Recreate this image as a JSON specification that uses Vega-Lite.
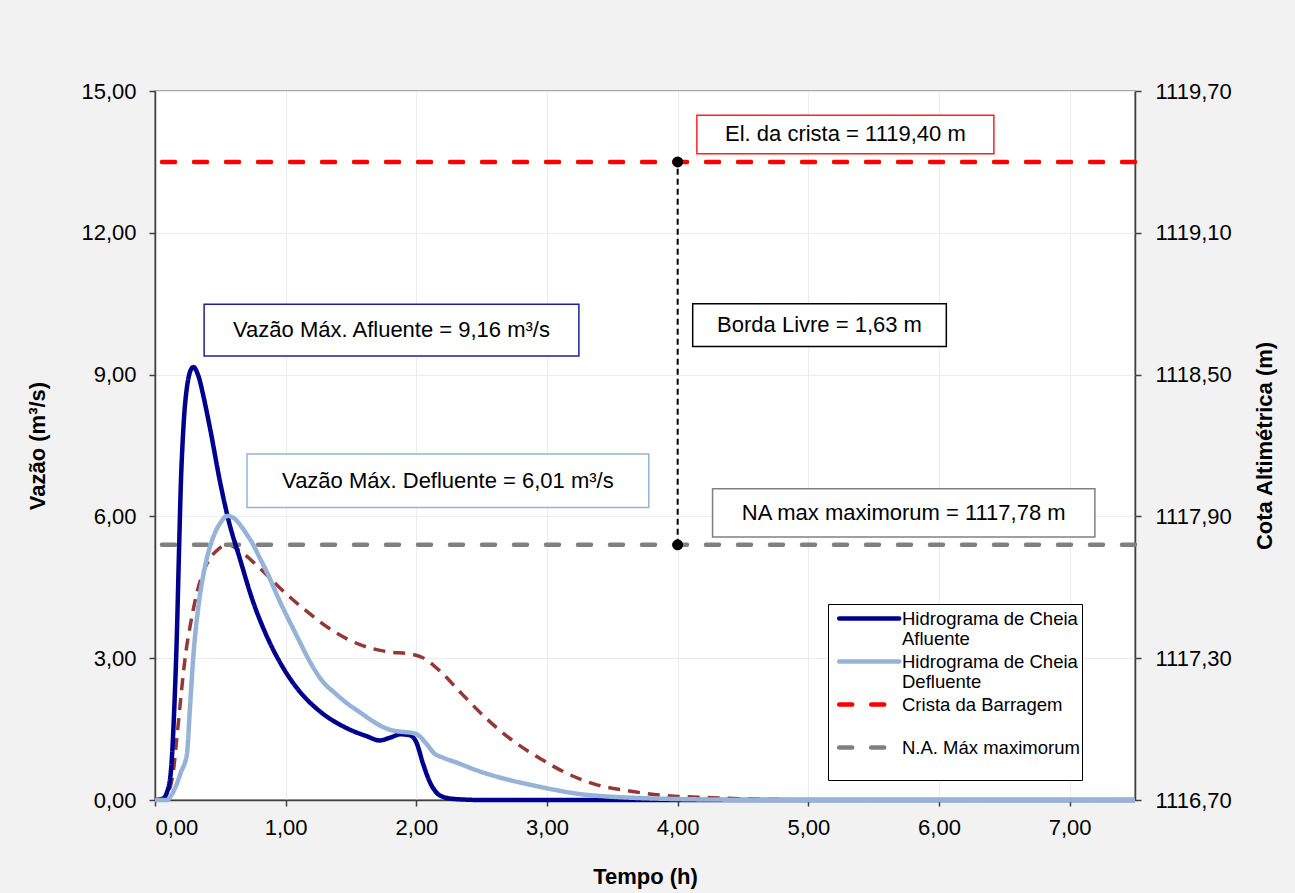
{
  "$schema": "https://vega.github.io/schema/vega-lite/v6.json",
  "width": 980,
  "height": 709,
  "autosize": {"type": "none"},
  "padding": {"left": 155, "top": 91, "right": 160, "bottom": 93},
  "background": "#f2f2f2",
  "config": {
    "font": "Liberation Sans",
    "view": {"fill": "white", "stroke": "#8c8c8c", "strokeWidth": 1.5},
    "axis": {
      "labelFont": "Liberation Sans", "labelFontSize": 22, "labelColor": "#000",
      "titleFont": "Liberation Sans", "titleFontSize": 22, "titleFontWeight": "bold", "titleColor": "#000",
      "domainColor": "#404040", "domainWidth": 1.5, "tickColor": "#404040", "tickWidth": 1.5, "tickSize": 6,
      "gridColor": "#ececec", "gridWidth": 1
    }
  },
  "datasets": {
    "hidro": [
      {"serie": "Hidrograma de Cheia Afluente", "t": 0, "q": 0},
      {"serie": "Hidrograma de Cheia Afluente", "t": 0.06, "q": 0.03},
      {"serie": "Hidrograma de Cheia Afluente", "t": 0.09, "q": 0.15},
      {"serie": "Hidrograma de Cheia Afluente", "t": 0.12, "q": 0.56},
      {"serie": "Hidrograma de Cheia Afluente", "t": 0.148, "q": 1.97},
      {"serie": "Hidrograma de Cheia Afluente", "t": 0.166, "q": 3.38},
      {"serie": "Hidrograma de Cheia Afluente", "t": 0.186, "q": 5.5},
      {"serie": "Hidrograma de Cheia Afluente", "t": 0.198, "q": 6.7},
      {"serie": "Hidrograma de Cheia Afluente", "t": 0.211, "q": 7.55},
      {"serie": "Hidrograma de Cheia Afluente", "t": 0.225, "q": 8.2},
      {"serie": "Hidrograma de Cheia Afluente", "t": 0.242, "q": 8.68},
      {"serie": "Hidrograma de Cheia Afluente", "t": 0.262, "q": 9.0},
      {"serie": "Hidrograma de Cheia Afluente", "t": 0.28, "q": 9.13},
      {"serie": "Hidrograma de Cheia Afluente", "t": 0.295, "q": 9.16},
      {"serie": "Hidrograma de Cheia Afluente", "t": 0.315, "q": 9.09},
      {"serie": "Hidrograma de Cheia Afluente", "t": 0.34, "q": 8.9},
      {"serie": "Hidrograma de Cheia Afluente", "t": 0.37, "q": 8.55},
      {"serie": "Hidrograma de Cheia Afluente", "t": 0.42, "q": 7.88},
      {"serie": "Hidrograma de Cheia Afluente", "t": 0.5, "q": 6.7},
      {"serie": "Hidrograma de Cheia Afluente", "t": 0.56, "q": 5.95},
      {"serie": "Hidrograma de Cheia Afluente", "t": 0.65, "q": 5.1},
      {"serie": "Hidrograma de Cheia Afluente", "t": 0.75, "q": 4.2},
      {"serie": "Hidrograma de Cheia Afluente", "t": 0.85, "q": 3.5},
      {"serie": "Hidrograma de Cheia Afluente", "t": 0.98, "q": 2.8},
      {"serie": "Hidrograma de Cheia Afluente", "t": 1.1, "q": 2.32},
      {"serie": "Hidrograma de Cheia Afluente", "t": 1.26, "q": 1.88},
      {"serie": "Hidrograma de Cheia Afluente", "t": 1.46, "q": 1.53},
      {"serie": "Hidrograma de Cheia Afluente", "t": 1.62, "q": 1.35},
      {"serie": "Hidrograma de Cheia Afluente", "t": 1.72, "q": 1.26},
      {"serie": "Hidrograma de Cheia Afluente", "t": 1.8, "q": 1.32},
      {"serie": "Hidrograma de Cheia Afluente", "t": 1.88, "q": 1.39},
      {"serie": "Hidrograma de Cheia Afluente", "t": 1.95, "q": 1.37},
      {"serie": "Hidrograma de Cheia Afluente", "t": 2.0, "q": 1.22},
      {"serie": "Hidrograma de Cheia Afluente", "t": 2.05, "q": 0.78},
      {"serie": "Hidrograma de Cheia Afluente", "t": 2.1, "q": 0.4},
      {"serie": "Hidrograma de Cheia Afluente", "t": 2.15, "q": 0.17},
      {"serie": "Hidrograma de Cheia Afluente", "t": 2.2, "q": 0.07},
      {"serie": "Hidrograma de Cheia Afluente", "t": 2.3, "q": 0.02},
      {"serie": "Hidrograma de Cheia Afluente", "t": 2.5, "q": 0},
      {"serie": "Hidrograma de Cheia Afluente", "t": 3, "q": 0},
      {"serie": "Hidrograma de Cheia Afluente", "t": 4, "q": 0},
      {"serie": "Hidrograma de Cheia Afluente", "t": 5, "q": 0},
      {"serie": "Hidrograma de Cheia Afluente", "t": 6, "q": 0},
      {"serie": "Hidrograma de Cheia Afluente", "t": 7, "q": 0},
      {"serie": "Hidrograma de Cheia Afluente", "t": 7.5, "q": 0},
      {"serie": "Hidrograma de Cheia Defluente", "t": 0, "q": 0},
      {"serie": "Hidrograma de Cheia Defluente", "t": 0.09, "q": 0},
      {"serie": "Hidrograma de Cheia Defluente", "t": 0.13, "q": 0.12},
      {"serie": "Hidrograma de Cheia Defluente", "t": 0.165, "q": 0.33},
      {"serie": "Hidrograma de Cheia Defluente", "t": 0.2, "q": 0.6},
      {"serie": "Hidrograma de Cheia Defluente", "t": 0.243, "q": 0.95},
      {"serie": "Hidrograma de Cheia Defluente", "t": 0.268, "q": 1.97},
      {"serie": "Hidrograma de Cheia Defluente", "t": 0.293, "q": 3.03},
      {"serie": "Hidrograma de Cheia Defluente", "t": 0.332, "q": 4.09},
      {"serie": "Hidrograma de Cheia Defluente", "t": 0.383, "q": 4.94},
      {"serie": "Hidrograma de Cheia Defluente", "t": 0.447, "q": 5.57},
      {"serie": "Hidrograma de Cheia Defluente", "t": 0.5, "q": 5.86},
      {"serie": "Hidrograma de Cheia Defluente", "t": 0.554, "q": 6.01},
      {"serie": "Hidrograma de Cheia Defluente", "t": 0.6, "q": 5.97},
      {"serie": "Hidrograma de Cheia Defluente", "t": 0.649, "q": 5.83},
      {"serie": "Hidrograma de Cheia Defluente", "t": 0.7, "q": 5.63},
      {"serie": "Hidrograma de Cheia Defluente", "t": 0.75, "q": 5.41},
      {"serie": "Hidrograma de Cheia Defluente", "t": 0.8, "q": 5.13},
      {"serie": "Hidrograma de Cheia Defluente", "t": 0.853, "q": 4.84},
      {"serie": "Hidrograma de Cheia Defluente", "t": 0.954, "q": 4.21},
      {"serie": "Hidrograma de Cheia Defluente", "t": 1.08, "q": 3.5},
      {"serie": "Hidrograma de Cheia Defluente", "t": 1.183, "q": 2.94},
      {"serie": "Hidrograma de Cheia Defluente", "t": 1.285, "q": 2.5},
      {"serie": "Hidrograma de Cheia Defluente", "t": 1.37, "q": 2.28},
      {"serie": "Hidrograma de Cheia Defluente", "t": 1.463, "q": 2.06},
      {"serie": "Hidrograma de Cheia Defluente", "t": 1.566, "q": 1.86},
      {"serie": "Hidrograma de Cheia Defluente", "t": 1.666, "q": 1.67},
      {"serie": "Hidrograma de Cheia Defluente", "t": 1.74, "q": 1.55},
      {"serie": "Hidrograma de Cheia Defluente", "t": 1.82, "q": 1.47},
      {"serie": "Hidrograma de Cheia Defluente", "t": 1.9, "q": 1.44},
      {"serie": "Hidrograma de Cheia Defluente", "t": 1.97, "q": 1.42},
      {"serie": "Hidrograma de Cheia Defluente", "t": 2.02, "q": 1.36},
      {"serie": "Hidrograma de Cheia Defluente", "t": 2.08, "q": 1.18},
      {"serie": "Hidrograma de Cheia Defluente", "t": 2.14, "q": 0.98},
      {"serie": "Hidrograma de Cheia Defluente", "t": 2.2, "q": 0.9},
      {"serie": "Hidrograma de Cheia Defluente", "t": 2.3, "q": 0.8},
      {"serie": "Hidrograma de Cheia Defluente", "t": 2.48, "q": 0.61},
      {"serie": "Hidrograma de Cheia Defluente", "t": 2.66, "q": 0.46},
      {"serie": "Hidrograma de Cheia Defluente", "t": 2.86, "q": 0.33},
      {"serie": "Hidrograma de Cheia Defluente", "t": 3.05, "q": 0.22},
      {"serie": "Hidrograma de Cheia Defluente", "t": 3.24, "q": 0.13},
      {"serie": "Hidrograma de Cheia Defluente", "t": 3.43, "q": 0.08},
      {"serie": "Hidrograma de Cheia Defluente", "t": 3.63, "q": 0.05},
      {"serie": "Hidrograma de Cheia Defluente", "t": 4.0, "q": 0.02},
      {"serie": "Hidrograma de Cheia Defluente", "t": 4.5, "q": 0.005},
      {"serie": "Hidrograma de Cheia Defluente", "t": 5, "q": 0},
      {"serie": "Hidrograma de Cheia Defluente", "t": 6, "q": 0},
      {"serie": "Hidrograma de Cheia Defluente", "t": 7.5, "q": 0}
    ],
    "nivel": [
      {"t": 0, "cota": 1116.70},
      {"t": 0.06, "cota": 1116.704},
      {"t": 0.115, "cota": 1116.752},
      {"t": 0.14, "cota": 1116.82},
      {"t": 0.165, "cota": 1116.95},
      {"t": 0.19, "cota": 1117.09},
      {"t": 0.216, "cota": 1117.232},
      {"t": 0.24, "cota": 1117.34},
      {"t": 0.267, "cota": 1117.43},
      {"t": 0.318, "cota": 1117.57},
      {"t": 0.394, "cota": 1117.696},
      {"t": 0.47, "cota": 1117.754},
      {"t": 0.56, "cota": 1117.78},
      {"t": 0.649, "cota": 1117.754},
      {"t": 0.8, "cota": 1117.682},
      {"t": 0.954, "cota": 1117.598},
      {"t": 1.158, "cota": 1117.50},
      {"t": 1.361, "cota": 1117.416},
      {"t": 1.565, "cota": 1117.358},
      {"t": 1.77, "cota": 1117.328},
      {"t": 1.97, "cota": 1117.316},
      {"t": 2.05, "cota": 1117.302},
      {"t": 2.18, "cota": 1117.246},
      {"t": 2.35, "cota": 1117.148},
      {"t": 2.53, "cota": 1117.048},
      {"t": 2.74, "cota": 1116.95},
      {"t": 2.94, "cota": 1116.878},
      {"t": 3.14, "cota": 1116.816},
      {"t": 3.37, "cota": 1116.766},
      {"t": 3.63, "cota": 1116.738},
      {"t": 3.88, "cota": 1116.72},
      {"t": 4.26, "cota": 1116.71},
      {"t": 4.64, "cota": 1116.703},
      {"t": 5.2, "cota": 1116.70},
      {"t": 6, "cota": 1116.70},
      {"t": 7.5, "cota": 1116.70}
    ],
    "niveis": [
      {"serie": "Crista da Barragem", "cota": 1119.40},
      {"serie": "N.A. Máx maximorum", "cota": 1117.78}
    ],
    "borda": [
      {"t": 4.0, "cota_min": 1117.78, "cota_max": 1119.40}
    ],
    "pontos": [
      {"t": 4.0, "cota": 1117.78},
      {"t": 4.0, "cota": 1119.40}
    ],
    "caixas": [
      {"caixa": "afl", "texto": "Vazão Máx. Afluente = 9,16 m³/s", "x1": 0.376, "x2": 3.244, "y1": 9.393, "y2": 10.487},
      {"caixa": "defl", "texto": "Vazão Máx. Defluente = 6,01 m³/s", "x1": 0.704, "x2": 3.779, "y1": 6.188, "y2": 7.322},
      {"caixa": "crista", "texto": "El. da crista = 1119,40 m", "x1": 4.147, "x2": 6.42, "y1": 13.674, "y2": 14.486},
      {"caixa": "borda", "texto": "Borda Livre = 1,63 m", "x1": 4.115, "x2": 6.056, "y1": 9.594, "y2": 10.499},
      {"caixa": "na", "texto": "NA max maximorum = 1117,78 m", "x1": 4.267, "x2": 7.193, "y1": 5.564, "y2": 6.586}
    ]
  },
  "resolve": {"scale": {"y": "independent"}},
  "layer": [
    {
      "data": {"name": "caixas"},
      "mark": {"type": "rect", "fill": "white", "strokeWidth": 1.5},
      "encoding": {
        "x": {"field": "x1", "type": "quantitative", "scale": {"domain": [0, 7.5], "nice": false, "zero": false},
          "axis": {"values": [0, 1, 2, 3, 4, 5, 6, 7], "title": "Tempo (h)", "grid": true, "labelPadding": 11, "titlePadding": 28,
            "labelExpr": "replace(format(datum.value, '.2f'), '.', ',')"}},
        "x2": {"field": "x2"},
        "y": {"field": "y1", "type": "quantitative", "scale": {"domain": [0, 15], "nice": false}, "axis": null},
        "y2": {"field": "y2"},
        "stroke": {"field": "caixa", "type": "nominal",
          "scale": {"domain": ["afl", "defl", "crista", "borda", "na"], "range": ["#1f1f9a", "#95b3d7", "#ff2020", "#000000", "#808080"]},
          "legend": null}
      }
    },
    {
      "data": {"name": "caixas"},
      "mark": {"type": "text", "fontSize": 22, "color": "#000", "align": "center", "baseline": "middle", "font": "Liberation Sans"},
      "encoding": {
        "x": {"field": "xc", "type": "quantitative", "scale": {"domain": [0, 7.5], "nice": false}},
        "y": {"field": "yc", "type": "quantitative", "scale": {"domain": [0, 15], "nice": false}, "axis": null},
        "text": {"field": "texto"}
      },
      "transform": [
        {"calculate": "(datum.x1 + datum.x2) / 2", "as": "xc"},
        {"calculate": "(datum.y1 + datum.y2) / 2", "as": "yc"}
      ]
    },
    {
      "data": {"name": "nivel"},
      "mark": {"type": "line", "color": "#953735", "strokeWidth": 3.5, "strokeDash": [12, 8], "interpolate": "monotone"},
      "encoding": {
        "x": {"field": "t", "type": "quantitative", "scale": {"domain": [0, 7.5], "nice": false}},
        "y": {"field": "cota", "type": "quantitative", "scale": {"domain": [1116.7, 1119.7], "nice": false, "zero": false}, "axis": null}
      }
    },
    {
      "data": {"name": "niveis"},
      "mark": {"type": "rule", "strokeWidth": 4.5, "strokeCap": "round"},
      "encoding": {
        "y": {"field": "cota", "type": "quantitative", "scale": {"domain": [1116.7, 1119.7], "nice": false, "zero": false},
          "axis": {"orient": "right", "title": "Cota Altimétrica (m)", "grid": false, "titleAngle": 270,
            "values": [1116.7, 1117.3, 1117.9, 1118.5, 1119.1, 1119.7], "labelPadding": 14, "titlePadding": 45,
            "labelExpr": "replace(format(datum.value, '.2f'), '.', ',')"}},
        "color": {"field": "serie", "type": "nominal",
          "scale": {"domain": ["Hidrograma de Cheia Afluente", "Hidrograma de Cheia Defluente", "Crista da Barragem", "N.A. Máx maximorum"],
            "range": ["#00008f", "#95b3d7", "#ff0000", "#808080"]}},
        "strokeDash": {"field": "serie", "type": "nominal",
          "scale": {"domain": ["Hidrograma de Cheia Afluente", "Hidrograma de Cheia Defluente", "Crista da Barragem", "N.A. Máx maximorum"],
            "range": [[1, 0], [1, 0], [13, 19], [13, 19]]}}
      }
    },
    {
      "data": {"name": "hidro"},
      "mark": {"type": "line", "strokeWidth": 4.5, "interpolate": "monotone"},
      "encoding": {
        "x": {"field": "t", "type": "quantitative", "scale": {"domain": [0, 7.5], "nice": false}},
        "y": {"field": "q", "type": "quantitative", "scale": {"domain": [0, 15], "nice": false},
          "axis": {"orient": "left", "title": "Vazão (m³/s)", "grid": true, "values": [0, 3, 6, 9, 12, 15], "labelPadding": 13, "titlePadding": 31,
            "labelExpr": "replace(format(datum.value, '.2f'), '.', ',')"}},
        "color": {"field": "serie", "type": "nominal",
          "scale": {"domain": ["Hidrograma de Cheia Afluente", "Hidrograma de Cheia Defluente", "Crista da Barragem", "N.A. Máx maximorum"],
            "range": ["#00008f", "#95b3d7", "#ff0000", "#808080"]},
          "legend": {"title": null, "orient": "none", "legendX": 673, "legendY": 513, "direction": "vertical",
            "fillColor": "white", "strokeColor": "#000000", "padding": 2,
            "symbolType": "M-0.33,0H5.67", "symbolSize": 400, "symbolStrokeWidth": 4.5,
            "labelFont": "Liberation Sans", "labelFontSize": 18.5, "labelColor": "#000", "labelLimit": 400, "labelOffset": 47, "rowPadding": 0,
            "labelExpr": "datum.label == 'Hidrograma de Cheia Afluente' ? ['Hidrograma de Cheia', 'Afluente'] : datum.label == 'Hidrograma de Cheia Defluente' ? ['Hidrograma de Cheia', 'Defluente'] : [datum.label, '']",
            "encode": {"symbols": {"update": {"strokeCap": {"value": "round"}}}}}},
        "strokeDash": {"field": "serie", "type": "nominal",
          "scale": {"domain": ["Hidrograma de Cheia Afluente", "Hidrograma de Cheia Defluente", "Crista da Barragem", "N.A. Máx maximorum"],
            "range": [[1, 0], [1, 0], [13, 19], [13, 19]]}}
      }
    },
    {
      "data": {"name": "borda"},
      "mark": {"type": "rule", "color": "#000", "strokeWidth": 2, "strokeDash": [6, 4]},
      "encoding": {
        "x": {"field": "t", "type": "quantitative", "scale": {"domain": [0, 7.5], "nice": false}},
        "y": {"field": "cota_min", "type": "quantitative", "scale": {"domain": [1116.7, 1119.7], "nice": false, "zero": false}, "axis": null},
        "y2": {"field": "cota_max"}
      }
    },
    {
      "data": {"name": "pontos"},
      "mark": {"type": "point", "filled": true, "color": "#000", "size": 120, "opacity": 1},
      "encoding": {
        "x": {"field": "t", "type": "quantitative", "scale": {"domain": [0, 7.5], "nice": false}},
        "y": {"field": "cota", "type": "quantitative", "scale": {"domain": [1116.7, 1119.7], "nice": false, "zero": false}, "axis": null}
      }
    }
  ]
}
